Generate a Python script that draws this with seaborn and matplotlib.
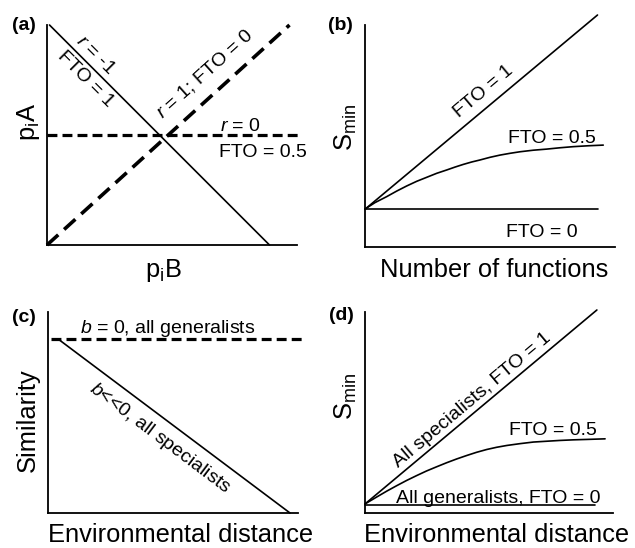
import matplotlib
matplotlib.use("Agg")
import matplotlib.pyplot as plt
import seaborn as sns

# --------------------------
# Conceptual curves (axes units 0..1)
# --------------------------
# (a) pA vs pB
a_neg_x = [0.01, 0.89]
a_neg_y = [1.0, 0.0]
a_pos_x = [0.0, 0.97]
a_pos_y = [0.0, 1.0]
a_zero_x = [0.0, 1.01]
a_zero_y = [0.5, 0.5]

# (b) Smin vs number of functions
b_fto1_x = [0.0, 0.93]
b_fto1_y = [0.17, 1.045]
b_fto0_x = [0.0, 0.93]
b_fto0_y = [0.17, 0.17]
b_half_x = [0.0, 0.04, 0.087, 0.127, 0.167, 0.207, 0.247, 0.287, 0.327, 0.36,
            0.393, 0.427, 0.46, 0.5, 0.54, 0.58, 0.62, 0.673, 0.727, 0.78,
            0.833, 0.893, 0.953]
b_half_y = [0.171, 0.2, 0.227, 0.252, 0.275, 0.296, 0.314, 0.332, 0.347, 0.36,
            0.372, 0.383, 0.392, 0.404, 0.414, 0.422, 0.429, 0.436, 0.441, 0.447,
            0.452, 0.456, 0.459]

# (c) similarity vs environmental distance
c_gen_x = [0.01, 1.016]
c_gen_y = [0.866, 0.866]
c_spec_x = [0.04, 0.968]
c_spec_y = [0.866, 0.0]

# (d) Smin vs environmental distance
d_fto1_x = [0.0, 0.935]
d_fto1_y = [0.045, 1.01]
d_fto0_x = [0.0, 0.927]
d_fto0_y = [0.04, 0.04]
d_half_x = [0.0, 0.045, 0.088, 0.128, 0.168, 0.208, 0.248, 0.289, 0.329, 0.37,
            0.41, 0.45, 0.491, 0.531, 0.572, 0.625, 0.679, 0.732, 0.786, 0.84,
            0.894, 0.968]
d_half_y = [0.045, 0.078, 0.109, 0.136, 0.162, 0.186, 0.209, 0.23, 0.25, 0.269,
            0.286, 0.302, 0.316, 0.327, 0.336, 0.345, 0.353, 0.357, 0.361, 0.364,
            0.366, 0.369]

# --------------------------
# Style
# --------------------------
sns.set_style("white")
plt.rcParams["font.family"] = ["Liberation Sans", "DejaVu Sans"]
plt.rcParams["mathtext.fontset"] = "custom"
plt.rcParams["mathtext.rm"] = "Liberation Sans"
plt.rcParams["mathtext.it"] = "Liberation Sans:italic"
plt.rcParams["mathtext.bf"] = "Liberation Sans:bold"

W, H = 635, 548
fig = plt.figure(figsize=(W / 100, H / 100), dpi=100)


def make_ax(left, right, top, bottom):
    ax = fig.add_axes([left / W, 1 - bottom / H, (right - left) / W, (bottom - top) / H])
    ax.set_xlim(0, 1)
    ax.set_ylim(0, 1)
    for s in ["top", "right"]:
        ax.spines[s].set_visible(False)
    for s in ["left", "bottom"]:
        ax.spines[s].set_color("black")
        ax.spines[s].set_linewidth(1.3)
    ax.set_xticks([])
    ax.set_yticks([])
    ax.patch.set_alpha(0)
    return ax


def line(ax, x, y, lw=1.2, ls="-"):
    sns.lineplot(x=x, y=y, ax=ax, color="black", lw=lw, linestyle=ls,
                 estimator=None, sort=False, clip_on=False)


def txt(x, y, s, size=14, **kw):
    fig.text(x / W, 1 - y / H, s, fontsize=size, color="black", **kw)


ax_a = make_ax(47, 297, 25, 245)
ax_b = make_ax(365, 615, 25, 247)
ax_c = make_ax(48, 298, 312, 513)
ax_d = make_ax(365, 613, 312, 513)

dash_long = (0, (4.2, 2.2))
dash_short = (0, (3.1, 1.6))

line(ax_a, a_neg_x, a_neg_y)
line(ax_a, a_pos_x, a_pos_y, lw=2.6, ls=dash_long)
line(ax_a, a_zero_x, a_zero_y, lw=2.3, ls=dash_short)

line(ax_b, b_fto1_x, b_fto1_y)
line(ax_b, b_fto0_x, b_fto0_y)
line(ax_b, b_half_x, b_half_y)

line(ax_c, c_gen_x, c_gen_y, lw=2.3, ls=dash_short)
line(ax_c, c_spec_x, c_spec_y)

line(ax_d, d_fto1_x, d_fto1_y)
line(ax_d, d_fto0_x, d_fto0_y)
line(ax_d, d_half_x, d_half_y)

# --------------------------
# Panel letters
# --------------------------
for x, y, s in [(24, 30, "(a)"), (340, 30, "(b)"), (24, 322, "(c)"), (341, 320, "(d)")]:
    txt(x, y, s, size=14, weight="bold", ha="center", va="baseline")

# --------------------------
# Axis labels
# --------------------------
big = 18.4
txt(163, 277, r"p$_\mathregular{i}$B", size=big, ha="center", va="baseline")
txt(494, 277, "Number of functions", size=big, ha="center", va="baseline")
txt(181, 542, "Environmental distance", size=big, ha="center", va="baseline")
txt(497, 542, "Environmental distance", size=big, ha="center", va="baseline")
txt(35, 122, r"p$_\mathregular{i}$A", size=big, ha="center", va="baseline",
    rotation=90, rotation_mode="anchor")
txt(353, 128, r"S$_\mathregular{min}$", size=big, ha="center", va="baseline",
    rotation=90, rotation_mode="anchor")
txt(35, 420, "Similarity", size=big, ha="center", va="baseline",
    rotation=90, rotation_mode="anchor")
txt(353, 397, r"S$_\mathregular{min}$", size=big, ha="center", va="baseline",
    rotation=90, rotation_mode="anchor")

# --------------------------
# Annotations
# --------------------------
rot = dict(ha="center", va="center", rotation_mode="anchor")
txt(95, 55, r"$r$ = -1", rotation=-45, **rot)
txt(86, 79, "FTO = 1", rotation=-45, **rot)
txt(205, 74, r"$r$ = 1; FTO = 0", rotation=42, **rot)
txt(240, 131, r"$r$ = 0", ha="center", va="baseline")
txt(263, 157, "FTO = 0.5", ha="center", va="baseline")

txt(484, 92, "FTO = 1", rotation=40, **rot)
txt(552, 143, "FTO = 0.5", ha="center", va="baseline")
txt(542, 237, "FTO = 0", ha="center", va="baseline")

txt(168, 333, r"$b$ = 0, all generalists", ha="center", va="baseline")
txt(160, 438, r"$b$<<0, all specialists", rotation=-37, **rot)

txt(472, 400, "All specialists, FTO = 1", rotation=40, **rot)
txt(553, 435, "FTO = 0.5", ha="center", va="baseline")
txt(498, 503, "All generalists, FTO = 0", ha="center", va="baseline")

plt.savefig("out.png", dpi=100)
